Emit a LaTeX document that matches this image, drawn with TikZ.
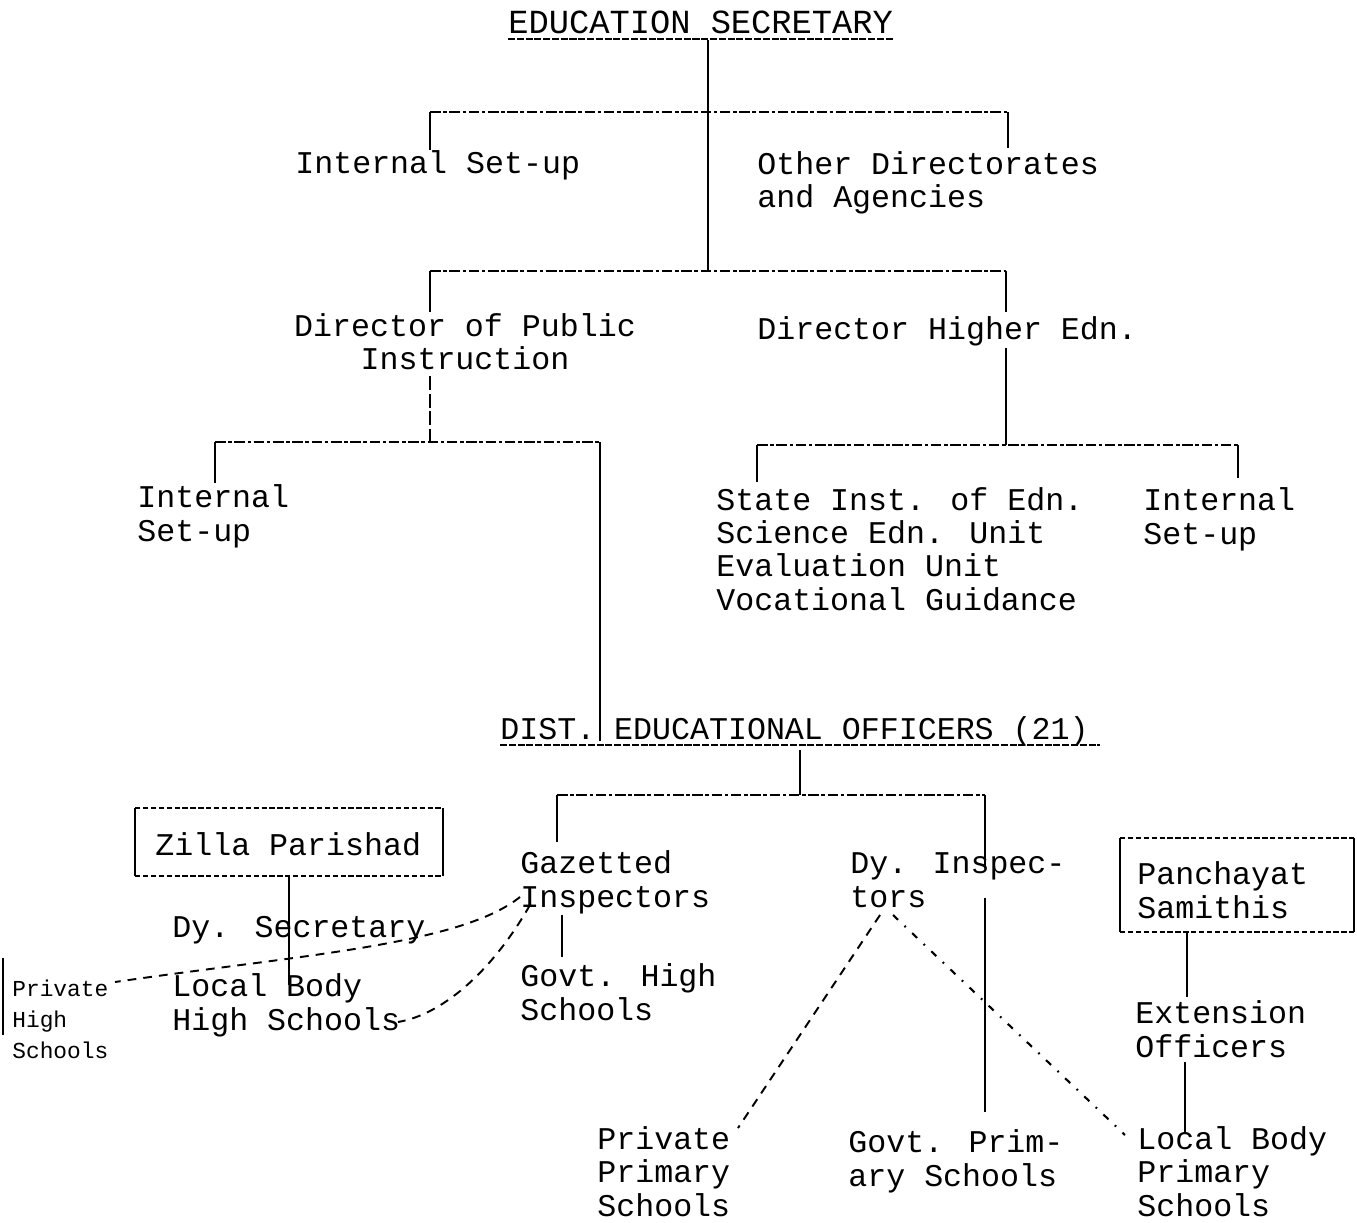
\documentclass[tikz,border=0pt]{standalone}
\usepackage{fontspec}
\newfontfamily\tw{Liberation Mono}
\begin{document}
\begin{tikzpicture}[x=0.02cm,y=-0.02cm,
  lbl/.style={font={\tw\fontsize{18}{18.8}\selectfont}, inner sep=0pt, anchor=base west, align=left},
  hdr/.style={font={\tw\fontsize{19.2}{20}\selectfont}, inner sep=0pt, anchor=base west},
  smalllbl/.style={font={\tw\fontsize{13}{17.6}\selectfont}, inner sep=0pt, anchor=base west, align=left},
  solidln/.style={line width=1.1pt},
  bus/.style={line width=1.1pt, dash pattern=on 6pt off 1.5pt on 2pt off 1.5pt},
  uline/.style={line width=1.1pt, dash pattern=on 4pt off 1pt},
  dashln/.style={line width=1.1pt, dash pattern=on 5pt off 4pt},
  dashdot/.style={line width=1.2pt, dash pattern=on 4pt off 5pt on 1pt off 5pt},
  boxside/.style={line width=1.1pt},
  boxedge/.style={line width=1.1pt, dash pattern=on 3pt off 1.5pt}
]
\fill[white] (0,0) rectangle (1357,1223);
\useasboundingbox (0,0) rectangle (1357,1223);

% ---------- nodes (multi-line nodes are placed by the baseline of their last line) ----------
\node[hdr] (es) at (508,34) {EDUCATION SECRETARY};
\node[lbl] (is1) at (295,174) {Internal Set-up};
\node[lbl] (od) at (757,208) {Other Directorates\\and Agencies};
\node[lbl, anchor=base, align=center] (dpi) at (465,370) {Director of Public\\Instruction};
\node[lbl] (dhe) at (757,340) {Director Higher Edn.};
\node[lbl] (is2) at (137,541) {Internal\\Set-up};
\node[lbl] (sie) at (716,610) {State Inst. of Edn.\\Science Edn. Unit\\Evaluation Unit\\Vocational Guidance};
\node[lbl] (is3) at (1143,544) {Internal\\Set-up};
\node[lbl] (deo) at (500,739) {DIST. EDUCATIONAL OFFICERS (21)};
\node[lbl] (zp) at (155,855) {Zilla Parishad};
\node[lbl] (gi) at (520,907) {Gazetted\\Inspectors};
\node[lbl] (di) at (850,907) {Dy. Inspec-\\tors};
\node[lbl] (ps) at (1137,918) {Panchayat\\Samithis};
\node[lbl] (dys) at (172,937) {Dy. Secretary};
\node[lbl] (lbh) at (172,1030) {Local Body\\High Schools};
\node[lbl] (gh) at (520,1020) {Govt. High\\Schools};
\node[lbl] (eo) at (1135,1057) {Extension\\Officers};
\node[lbl] (pp) at (597,1216) {Private\\Primary\\Schools};
\node[lbl] (gp) at (848,1186) {Govt. Prim-\\ary Schools};
\node[lbl] (lbp) at (1137,1216) {Local Body\\Primary\\Schools};
\node[smalllbl] (phs) at (12,1058) {Private\\High\\Schools};

% ---------- junction coordinates ----------
\coordinate (b1l) at (430,112);  \coordinate (b1m) at (708,112);  \coordinate (b1r) at (1008,112);
\coordinate (b2l) at (430,271);  \coordinate (b2m) at (708,271);  \coordinate (b2r) at (1006,271);
\coordinate (b3l) at (215,442);  \coordinate (b3m) at (430,442);  \coordinate (b3r) at (600,442);
\coordinate (b4l) at (757,445);  \coordinate (b4m) at (1006,445); \coordinate (b4r) at (1238,445);
\coordinate (b5l) at (557,795);  \coordinate (b5m) at (800,795);  \coordinate (b5r) at (985,795);

% ---------- underlines ----------
\draw[uline] (508,39) -- (893,39);
\draw[uline] (500,745) -- (1100,745);

% ---------- level 1 ----------
\draw[solidln] (708,40) -- (b2m);
\draw[bus] (b1l) -- (b1r);
\draw[solidln] (b1l) -- (430,150);
\draw[solidln] (b1r) -- (1008,148);
\draw[bus] (b2l) -- (b2r);
\draw[solidln] (b2l) -- (430,312);
\draw[solidln] (b2r) -- (1006,312);

% ---------- level 2 ----------
\draw[solidln, dash pattern=on 8pt off 2pt] (430,376) -- (b3m);
\draw[bus] (b3l) -- (b3r);
\draw[solidln] (b3l) -- (215,483);
\draw[solidln] (b3r) -- (600,741);
\draw[solidln] (1006,348) -- (b4m);
\draw[bus] (b4l) -- (b4r);
\draw[solidln] (b4l) -- (757,482);
\draw[solidln] (b4r) -- (1238,478);

% ---------- level 3 ----------
\draw[solidln] (800,750) -- (b5m);
\draw[bus] (b5l) -- (b5r);
\draw[solidln] (b5l) -- (557,842);
\draw[solidln] (b5r) -- (985,868);
\draw[solidln] (985,898) -- (985,1112);
\draw[solidln] (562,915) -- (562,957);

% Zilla Parishad box
\draw[boxside] (135,808) -- (135,876);
\draw[boxside] (443,808) -- (443,876);
\draw[boxedge] (135,808) -- (443,808);
\draw[boxedge] (135,876) -- (443,876);
\draw[solidln] (289,876) -- (289,985);

% Panchayat Samithis box
\draw[boxside] (1120,838) -- (1120,932);
\draw[boxside] (1354,838) -- (1354,932);
\draw[boxedge] (1120,838) -- (1354,838);
\draw[boxedge] (1120,932) -- (1354,932);
\draw[solidln] (1187,932) -- (1187,997);
\draw[solidln] (1185,1062) -- (1185,1132);

% dashed relations
\draw[dashln] (520,897) .. controls (460,945) and (300,955) .. (115,982);
\draw[dashln] (530,905) .. controls (490,975) and (440,1015) .. (398,1022);
\draw[dashln] (880,915) -- (738,1128);
\draw[dashdot] (893,915) -- (1125,1135);

% left edge fragment
\draw[line width=0.8pt] (3,958) -- (3,1035);
\end{tikzpicture}
\end{document}
